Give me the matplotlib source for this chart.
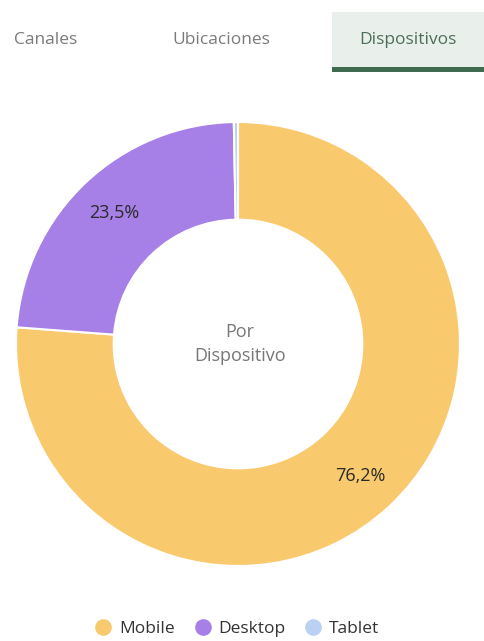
import matplotlib
matplotlib.use("Agg")
import matplotlib.pyplot as plt
from matplotlib.patches import Rectangle
from matplotlib.lines import Line2D
import numpy as np

plt.rcParams["font.family"] = ["Open Sans", "DejaVu Sans"]

# data
tabs = ["Canales", "Ubicaciones", "Dispositivos"]
devices = ["Mobile", "Desktop", "Tablet"]
shares = [76.2, 23.5, 0.3]
colors = ["#F9C96E", "#A67FE7", "#BBD1F4"]
shown_labels = ["76,2%", "23,5%", ""]

W, H = 485, 641
fig = plt.figure(figsize=(W / 100, H / 100), dpi=100)
fig.patch.set_facecolor("white")

# ── tab bar ──
top = fig.add_axes([0, 0, 1, 1])
top.set_xlim(0, W)
top.set_ylim(H, 0)
top.axis("off")
top.add_patch(Rectangle((332, 12), W - 332, 56, fc="#E9F0EB", ec="none"))
top.add_patch(Rectangle((332, 67), W - 332, 5, fc="#3F6A50", ec="none"))
tab_x = [46, 221, 408]
for i, (t, x) in enumerate(zip(tabs, tab_x)):
    active = i == 2
    top.text(x, 40, t, fontsize=12.5, ha="center", va="center",
             color="#4C6E58" if active else "#7A7A7A")

# ── donut ──
cx, cy, R = 238, 344, 222
ax = fig.add_axes([(cx - R) / W, (H - cy - R) / H, 2 * R / W, 2 * R / H])
wedges, _ = ax.pie(shares, colors=colors, startangle=90, counterclock=False,
                   radius=1, wedgeprops=dict(width=0.44, edgecolor="white",
                                             linewidth=1.5))
ax.set_xlim(-1, 1)
ax.set_ylim(-1, 1)
ax.set_aspect("auto")
ax.axis("off")

# percentage labels at wedge middles
for w, lab in zip(wedges, shown_labels):
    if not lab:
        continue
    ang = np.deg2rad((w.theta1 + w.theta2) / 2)
    r = 0.81
    ax.text(r * np.cos(ang), r * np.sin(ang), lab, fontsize=13,
            ha="center", va="center", color="#2A2A2A")

ax.text(0.01, 0.0, "Por\nDispositivo", fontsize=13, ha="center",
        va="center", color="#777777", linespacing=1.45)

# ── legend ──
handles = [Line2D([], [], marker="o", ls="none", markersize=12,
                  markerfacecolor=c, markeredgecolor="none") for c in colors]
fig.legend(handles, devices, loc="center", ncol=3, frameon=False,
           bbox_to_anchor=(236 / W, 1 - 629 / H), fontsize=12.5,
           handletextpad=0.3, columnspacing=1.0, handlelength=1.2,
           labelcolor="#333333")

fig.savefig("out.png", dpi=100, facecolor="white")
